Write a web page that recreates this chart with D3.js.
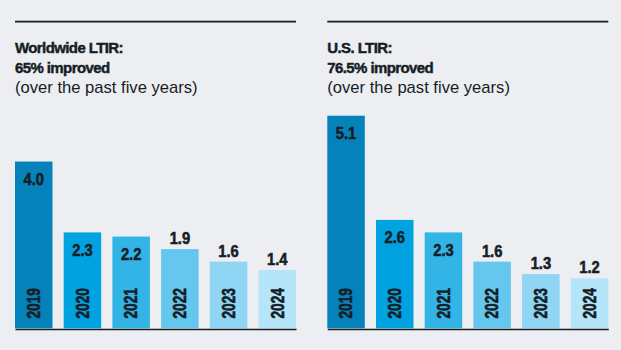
<!DOCTYPE html>
<html>
<head>
<meta charset="utf-8">
<script src="https://cdn.jsdelivr.net/npm/d3@7"></script>
<style>
  html, body { margin: 0; padding: 0; background: #eceef1; }
  svg { display: block; }
</style>
</head>
<body>
<div id="chart"></div>
<script>
// chart values
var years = ['2019', '2020', '2021', '2022', '2023', '2024'];
var worldwide = [4.0, 2.3, 2.2, 1.9, 1.6, 1.4];
var usRates = [5.1, 2.6, 2.3, 1.6, 1.3, 1.2];
var worldwideTitle = ['Worldwide LTIR:', '65% improved', '(over the past five years)'];
var usTitle = ['U.S. LTIR:', '76.5% improved', '(over the past five years)'];

var barColors = ['#0582b9', '#00a2e0', '#33b4e6', '#66c7ee', '#90d5f3', '#b5e5f8'];
var ink = '#161d26';
var font = "'Liberation Sans', Arial, Helvetica, sans-serif";

var width = 621;
var height = 350;
var baseY = 328.3;

var svg = d3.select('#chart')
  .append('svg')
  .attr('width', width)
  .attr('height', height);

svg.append('rect')
  .attr('width', width)
  .attr('height', height)
  .attr('fill', '#eceef1');

// both panels share one y scale
var yScale = d3.scaleLinear()
  .domain([0, 5.1])
  .range([baseY, 115.7]);

var color = d3.scaleOrdinal()
  .domain(years)
  .range(barColors);

function drawPanel(x0, x1, values, title) {
  var g = svg.append('g');

  var xScale = d3.scaleBand()
    .domain(years)
    .range([x0, x1])
    .paddingInner(0.23)
    .paddingOuter(0);

  // top rule
  g.append('line')
    .attr('x1', x0).attr('x2', x1)
    .attr('y1', 21.6).attr('y2', 21.6)
    .attr('stroke', ink)
    .attr('stroke-width', 1.6);

  // title lines (first two heavy)
  g.selectAll('text.title')
    .data(title)
    .enter()
    .append('text')
    .attr('class', 'title')
    .attr('x', x0)
    .attr('y', function (d, i) { return 53.3 + i * 20; })
    .attr('fill', ink)
    .attr('stroke', function (d, i) { return i < 2 ? ink : 'none'; })
    .attr('stroke-width', 0.45)
    .style('font-family', font)
    .style('font-weight', function (d, i) { return i < 2 ? 'bold' : 'normal'; })
    .style('font-size', function (d, i) { return i < 2 ? '15px' : '16.6px'; })
    .style('letter-spacing', function (d, i) { return i < 2 ? '-0.6px' : '0px'; })
    .text(function (d) { return d; });

  var data = years.map(function (y, i) { return { year: y, value: values[i] }; });

  // bars
  g.selectAll('rect.bar')
    .data(data)
    .enter()
    .append('rect')
    .attr('class', 'bar')
    .attr('x', function (d) { return xScale(d.year); })
    .attr('y', function (d) { return yScale(d.value); })
    .attr('width', xScale.bandwidth())
    .attr('height', function (d) { return baseY - yScale(d.value); })
    .attr('fill', function (d) { return color(d.year); });

  // value labels: inside for tall bars, above for short ones
  g.selectAll('text.value')
    .data(data)
    .enter()
    .append('text')
    .attr('class', 'value')
    .attr('transform', function (d) {
      var cx = xScale(d.year) + xScale.bandwidth() / 2;
      var ty = d.value >= 2 ? yScale(d.value) + 23.4 : yScale(d.value) - 5;
      return 'translate(' + cx + ',' + ty + ') scale(0.92,1)';
    })
    .attr('text-anchor', 'middle')
    .attr('fill', ink)
    .attr('stroke', ink)
    .attr('stroke-width', 0.55)
    .style('font-family', font)
    .style('font-weight', 'bold')
    .style('font-size', '16px')
    .text(function (d) { return d.value.toFixed(1); });

  // year labels, rotated
  g.selectAll('text.year')
    .data(data)
    .enter()
    .append('text')
    .attr('class', 'year')
    .attr('transform', function (d) {
      return 'translate(' + (xScale(d.year) + xScale.bandwidth() / 2) + ',' + (baseY - 9.8) + ') rotate(-90) scale(0.78,1)';
    })
    .attr('dy', '0.36em')
    .attr('text-anchor', 'start')
    .attr('fill', ink)
    .attr('stroke', ink)
    .attr('stroke-width', 0.6)
    .style('font-family', font)
    .style('font-weight', 'bold')
    .style('font-size', '17.5px')
    .text(function (d) { return d.year; });

  // baseline
  var xAxis = d3.axisBottom(xScale)
    .tickSize(0)
    .tickFormat('');

  var axisG = g.append('g')
    .attr('transform', 'translate(0,' + (baseY + 0.7) + ')')
    .call(xAxis);
  axisG.select('.domain')
    .attr('stroke', ink)
    .attr('stroke-width', 1.6);
}

drawPanel(15, 296, worldwide, worldwideTitle);
drawPanel(327.3, 608.3, usRates, usTitle);
</script>
</body>
</html>
